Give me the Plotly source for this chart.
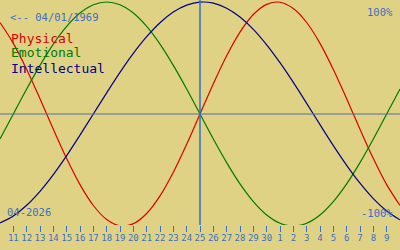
import plotly.graph_objects as go

# Day offsets relative to the centre date (25 April 2026), one point per day
day_offsets = list(range(-15, 16))
# Tick labels: day of month for offsets -14 .. 14
tick_offsets = list(range(-14, 15))
tick_labels = [str(d) for d in list(range(11, 31)) + list(range(1, 10))]

physical = [0.817, 0.631, 0.398, 0.136, -0.136, -0.398, -0.631, -0.817, -0.942, -0.998,
            -0.979, -0.888, -0.731, -0.520, -0.270, 0.0, 0.270, 0.520, 0.731, 0.888,
            0.979, 0.998, 0.942, 0.817, 0.631, 0.398, 0.136, -0.136, -0.398, -0.631, -0.817]
emotional = [-0.223, 0.0, 0.223, 0.434, 0.624, 0.782, 0.901, 0.975, 1.0, 0.975,
             0.901, 0.782, 0.624, 0.434, 0.223, 0.0, -0.223, -0.434, -0.624, -0.782,
             -0.901, -0.975, -1.0, -0.975, -0.901, -0.782, -0.624, -0.434, -0.223, 0.0, 0.223]
intellectual = [-0.972, -0.910, -0.815, -0.690, -0.541, -0.372, -0.189, 0.0, 0.189, 0.372,
                0.541, 0.690, 0.815, 0.910, 0.972, 0.999, 0.990, 0.945, 0.866, 0.756,
                0.618, 0.458, 0.282, 0.095, -0.095, -0.282, -0.458, -0.618, -0.756, -0.866, -0.945]

series_names = ["Physical", "Emotional", "Intellectual"]
series_colors = ["#dd0000", "#007a00", "#000088"]
series_values = [physical, emotional, intellectual]

BG = "#e0d284"
BLUE = "#3a6fc4"
FONT = "DejaVu Sans Mono"

fig = go.Figure()
for name, col, vals in zip(series_names, series_colors, series_values):
    fig.add_trace(go.Scatter(x=day_offsets, y=vals, mode="lines", name=name,
                             line=dict(color=col, width=1.2, shape="spline"),
                             hoverinfo="skip"))

H = 250.0
def py(p):
    return 1 - p / H

fig.add_shape(type="line", xref="paper", yref="y", x0=0, x1=1, y0=0, y1=0,
              line=dict(color="#50709a", width=1))
fig.add_shape(type="line", xref="x", yref="paper", x0=0, x1=0, y0=py(225), y1=1,
              line=dict(color="#2f6fc8", width=1.5))

annots = [
    dict(text="<-- 04/01/1969", x=8, y=17, anchor="left", size=10.5, color=BLUE),
    dict(text="100%", x=395, y=12, anchor="right", size=10.5, color=BLUE),
    dict(text="-100%", x=395, y=213, anchor="right", size=10.5, color=BLUE),
    dict(text="04-2026", x=5, y=212, anchor="left", size=10.5, color=BLUE),
]
for i, (name, col) in enumerate(zip(series_names, series_colors)):
    annots.append(dict(text=name, x=9, y=38 + 15 * i, anchor="left", size=13, color=col))

for a in annots:
    fig.add_annotation(text=a["text"], xref="paper", yref="paper", x=a["x"] / 400.0, y=py(a["y"]),
                       xanchor=a["anchor"], yanchor="middle", showarrow=False,
                       font=dict(family=FONT, size=a["size"], color=a["color"]))

fig.update_layout(
    width=400, height=250, margin=dict(l=0, r=0, t=0, b=0),
    paper_bgcolor=BG, plot_bgcolor=BG, showlegend=False,
    xaxis=dict(range=[-15, 15], showgrid=False, zeroline=False, showline=False,
               tickmode="array", tickvals=tick_offsets, ticktext=tick_labels,
               ticks="outside", ticklen=6, tickwidth=1, tickcolor=BLUE, tickangle=0,
               ticklabelstandoff=-2,
               tickfont=dict(family=FONT, size=9, color=BLUE), automargin=False),
    yaxis=dict(domain=[25 / H, 1], range=[-(225 - 114) / 112.0, 114 / 112.0],
               showgrid=False, zeroline=False, showticklabels=False, ticks="",
               automargin=False),
)

fig.write_html("out.html")
